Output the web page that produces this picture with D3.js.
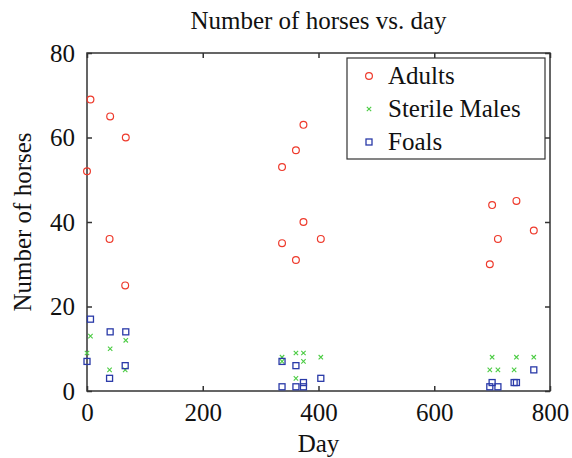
<!DOCTYPE html>
<html>
<head>
<meta charset="utf-8">
<script src="https://cdn.jsdelivr.net/npm/d3@7"></script>
<style>
  html, body { margin: 0; padding: 0; background: #fff; }
</style>
</head>
<body>
<svg id="chart" width="572" height="458" font-family="Liberation Serif, Times New Roman, serif"></svg>
<script>
// Survey observations: day of count and number of horses seen
const days    = [0, 6, 40, 39, 67, 66, 337, 337, 361, 361, 374, 374, 404, 696, 700, 710, 738, 742, 772];
const adults  = [52, 69, 65, 36, 60, 25, 53, 35, 57, 31, 63, 40, 36, 30, 44, 36, null, 45, 38];
const sterile = [9, 13, 10, 5, 12, 5, 8, 7, 9, 3, 9, 7, 8, 5, 8, 5, 5, 8, 8];
const foals   = [7, 17, 14, 3, 14, 6, 7, 1, 6, 1, 2, 1, 3, 1, 2, 1, 2, 2, 5];

const xTicks = [0, 200, 400, 600, 800];
const yTicks = [0, 20, 40, 60, 80];
const seriesNames = ["Adults", "Sterile Males", "Foals"];
const seriesColors = ["#ee3a2c", "#4ccc44", "#2a3aa8"];

const FONT = "Liberation Serif, Times New Roman, serif";
const svg = d3.select("#chart");
const m = { left: 87, right: 550, top: 53, bottom: 391 };

const x = d3.scaleLinear().domain([0, 800]).range([m.left, m.right]);
const y = d3.scaleLinear().domain([0, 80]).range([m.bottom, m.top]);

const axisColor = "#333";
const tickLen = 5;

// Frame
svg.append("rect")
  .attr("x", m.left).attr("y", m.top)
  .attr("width", m.right - m.left).attr("height", m.bottom - m.top)
  .attr("fill", "none").attr("stroke", axisColor).attr("stroke-width", 1.5);

// Inward ticks on all four sides
const xAxisB = d3.axisBottom(x).tickValues(xTicks).tickSizeInner(-tickLen).tickSizeOuter(0).tickPadding(12);
const xAxisT = d3.axisTop(x).tickValues(xTicks).tickSizeInner(-tickLen).tickSizeOuter(0).tickFormat("");
const yAxisL = d3.axisLeft(y).tickValues(yTicks).tickSizeInner(-tickLen).tickSizeOuter(0).tickPadding(12);
const yAxisR = d3.axisRight(y).tickValues(yTicks).tickSizeInner(-tickLen).tickSizeOuter(0).tickFormat("");

function styleAxis(g) {
  g.attr("font-family", FONT).attr("font-size", 25);
  g.select(".domain").remove();
  g.selectAll(".tick line").attr("stroke", axisColor).attr("stroke-width", 1.5);
  g.selectAll(".tick text").attr("fill", "#111");
}

svg.append("g").attr("transform", `translate(0,${m.bottom})`).call(xAxisB).call(styleAxis);
svg.append("g").attr("transform", `translate(0,${m.top})`).call(xAxisT).call(styleAxis);
svg.append("g").attr("transform", `translate(${m.left},0)`).call(yAxisL).call(styleAxis);
svg.append("g").attr("transform", `translate(${m.right},0)`).call(yAxisR).call(styleAxis);

// Titles
function label(sel) {
  return sel.attr("font-family", FONT).attr("font-size", 25).attr("fill", "#111");
}
svg.append("text").call(label)
  .attr("x", (m.left + m.right) / 2).attr("y", 29)
  .attr("text-anchor", "middle")
  .text("Number of horses vs. day");

svg.append("text").call(label)
  .attr("x", (m.left + m.right) / 2).attr("y", 452)
  .attr("text-anchor", "middle")
  .text("Day");

svg.append("text").call(label)
  .attr("transform", `translate(31,${(m.top + m.bottom) / 2}) rotate(-90)`)
  .attr("text-anchor", "middle")
  .text("Number of horses");

// Marker drawing helpers
function circleMarker(sel, color) {
  sel.append("circle").attr("r", 3.4)
    .attr("fill", "none").attr("stroke", color).attr("stroke-width", 1.2);
}
function crossMarker(sel, color) {
  const s = 2.2;
  sel.append("path").attr("d", `M${-s},${-s}L${s},${s}M${-s},${s}L${s},${-s}`)
    .attr("fill", "none").attr("stroke", color).attr("stroke-width", 1.1);
}
function squareMarker(sel, color) {
  sel.append("rect").attr("x", -3).attr("y", -3).attr("width", 6).attr("height", 6)
    .attr("fill", "none").attr("stroke", color).attr("stroke-width", 1.3);
}
const markers = [circleMarker, crossMarker, squareMarker];
const values = [adults, sterile, foals];

const plot = svg.append("g");
values.forEach((vals, si) => {
  const pts = days.map((d, i) => ({ d, v: vals[i] })).filter(p => p.v != null);
  plot.selectAll(null).data(pts).enter().append("g")
    .attr("transform", p => `translate(${x(p.d)},${y(p.v)})`)
    .each(function () { markers[si](d3.select(this), seriesColors[si]); });
});

// Legend
const lg = svg.append("g").attr("transform", "translate(347,58)");
lg.append("rect").attr("width", 198).attr("height", 101)
  .attr("fill", "#fff").attr("stroke", axisColor).attr("stroke-width", 1.2);
seriesNames.forEach((name, i) => {
  const row = lg.append("g").attr("transform", `translate(22,${18 + i * 33})`);
  markers[i](row, seriesColors[i]);
  row.append("text").call(label).attr("x", 19).attr("y", 8).text(name);
});
</script>
</body>
</html>
